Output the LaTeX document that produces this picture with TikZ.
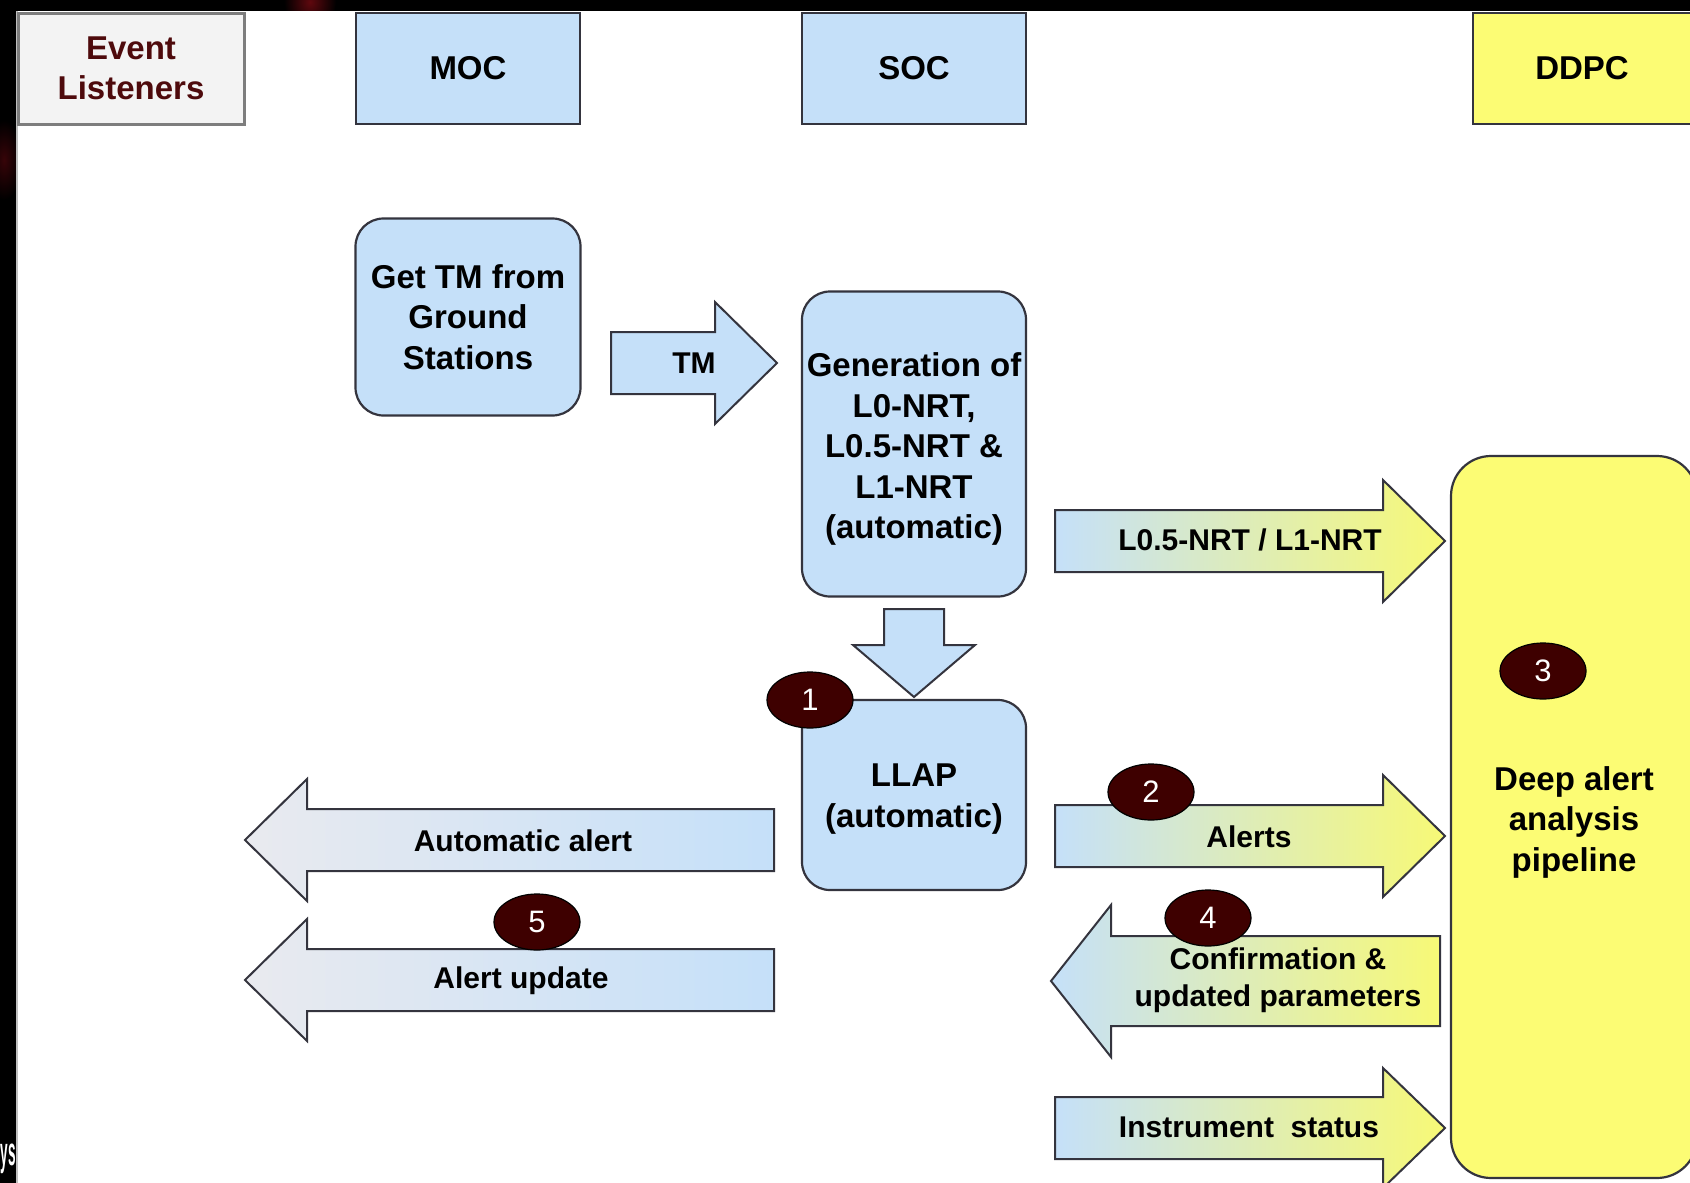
\documentclass[tikz,border=0pt]{standalone}
\usepackage{fontspec}
\setmainfont{Liberation Sans}
\usetikzlibrary{shapes.geometric}

\definecolor{boxblue}{RGB}{197,224,249}
\definecolor{boxyellow}{RGB}{252,252,116}
\definecolor{arrowyellow}{RGB}{247,249,118}
\definecolor{arrowgray}{RGB}{233,234,239}
\definecolor{edgecol}{RGB}{52,52,62}
\definecolor{badgefill}{RGB}{62,0,0}
\definecolor{maroontext}{RGB}{78,10,12}
\definecolor{listenfill}{RGB}{243,243,243}
\definecolor{listenedge}{RGB}{125,125,125}
\definecolor{glowred}{RGB}{95,8,14}
\definecolor{glowdim}{RGB}{55,4,8}

% block arrow: options, x of tail, x of head base, x of tip, y of axis,
% half width of the shaft, half width of the head
\newcommand\flowarrow[7]{%
  \path[#1] ({#2},{#5-#6}) -- ({#3},{#5-#6}) -- ({#3},{#5-#7}) -- ({#4},{#5})
    -- ({#3},{#5+#7}) -- ({#3},{#5+#6}) -- ({#2},{#5+#6}) -- cycle;}

\begin{document}
\begin{tikzpicture}[x=1pt,y=-1pt,
  boxfont/.style={font=\fontsize{33}{40.5}\selectfont\bfseries},
  labelfont/.style={font=\fontsize{30}{37}\selectfont\bfseries},
  header/.style={draw=edgecol, line width=2.4pt, minimum height=111pt,
    minimum width=224pt, inner sep=0pt, boxfont},
  stagebox/.style={draw=edgecol, line width=2.2pt, fill=boxblue,
    rounded corners=28pt, inner sep=0pt, align=center, boxfont},
  blueflow/.style={draw=edgecol, line width=2pt, fill=boxblue},
  toddpc/.style={draw=edgecol, line width=2pt, left color=boxblue, right color=arrowyellow},
  tolisteners/.style={draw=edgecol, line width=2pt, left color=arrowgray, right color=boxblue},
  flowlabel/.style={inner sep=0pt, align=center, labelfont},
  badge/.style={ellipse, draw=black, line width=1.2pt, fill=badgefill,
    minimum width=86pt, minimum height=56pt, inner sep=0pt, text=white,
    font=\fontsize{31}{31}\selectfont}]

\useasboundingbox (0,0) rectangle (1690,1183);
\clip (0,0) rectangle (1690,1183);

% dark slide frame behind the chart
\fill[black] (0,0) rectangle (1690,1183);
\shade[inner color=glowred, outer color=black] (310,2) ellipse [x radius=26, y radius=30];
\shade[inner color=glowdim, outer color=black] (4,160) ellipse [x radius=18, y radius=40];
\node[anchor=base east, text=white, inner sep=0pt,
  font=\fontsize{40}{40}\selectfont\bfseries] (slidetext) at (16,1165)
  {\scalebox{0.34}[1]{ys}};
\fill[white] (16,11) rectangle (1690,1183);
\draw[black!25, line width=1.5pt] (17,11) -- (17,1183);

% column headers
\node[header, draw=listenedge, line width=3pt, fill=listenfill, minimum width=226pt,
  text=maroontext, align=center] (evl) at (131,68.5) {Event\\Listeners};
\node[header, fill=boxblue] (moc) at (468,68.5) {MOC};
\node[header, fill=boxblue] (soc) at (914,68.5) {SOC};
\node[header, fill=boxyellow, minimum width=228pt] (ddpc) at (1587,68.5) {\hspace*{-10pt}DDPC};

% block arrows
\flowarrow{blueflow}{611}{715}{777}{363}{31}{61}
\path[blueflow] (884,609) -- (944,609) -- (944,645) -- (975,645) -- (914,697)
  -- (853,645) -- (884,645) -- cycle;
\flowarrow{toddpc}{1055}{1383}{1445}{541}{31}{61}
\flowarrow{toddpc}{1055}{1383}{1445}{836}{31}{61}
\flowarrow{toddpc}{1440}{1111}{1051}{981}{45}{76}
\flowarrow{toddpc}{1055}{1383}{1445}{1128}{31}{60}
\flowarrow{tolisteners}{774}{307}{245}{840}{31}{61}
\flowarrow{tolisteners}{774}{307}{245}{980}{31}{61}

% processing stages
\node[stagebox, minimum width=225pt, minimum height=197pt] (gettm) at (468,317)
  {Get TM from\\Ground\\Stations};
\node[stagebox, minimum width=224pt, minimum height=305pt] (gen) at (914,444)
  {\\[-6pt]Generation of\\L0-NRT,\\L0.5-NRT \&\\L1-NRT\\(automatic)};
\node[stagebox, minimum width=224pt, minimum height=190pt] (llap) at (914,795)
  {\\[-10pt]LLAP\\(automatic)};
\node[stagebox, fill=boxyellow, rounded corners=40pt, minimum width=246pt,
  minimum height=722pt] (deep) at (1574,817) {\\[-6pt]Deep alert\\analysis\\pipeline};

% arrow labels
\node[flowlabel] (lbltm) at (694,363) {TM};
\node[flowlabel] (lblnrt) at (1250,540) {L0.5-NRT / L1-NRT};
\node[flowlabel] (lblalerts) at (1249,837) {Alerts};
\node[flowlabel] (lblconf) at (1278,980) {Confirmation \&\\updated parameters};
\node[flowlabel] (lblstatus) at (1249,1127) {Instrument\ \ status};
\node[flowlabel] (lblauto) at (523,841) {Automatic alert};
\node[flowlabel] (lblupdate) at (521,981) {Alert update};

% numbered steps
\node[badge] (n1) at (810,700) {1};
\node[badge] (n2) at (1151,792) {2};
\node[badge] (n3) at (1543,671) {3};
\node[badge] (n4) at (1208,918) {4};
\node[badge] (n5) at (537,922) {5};
\end{tikzpicture}
\end{document}
